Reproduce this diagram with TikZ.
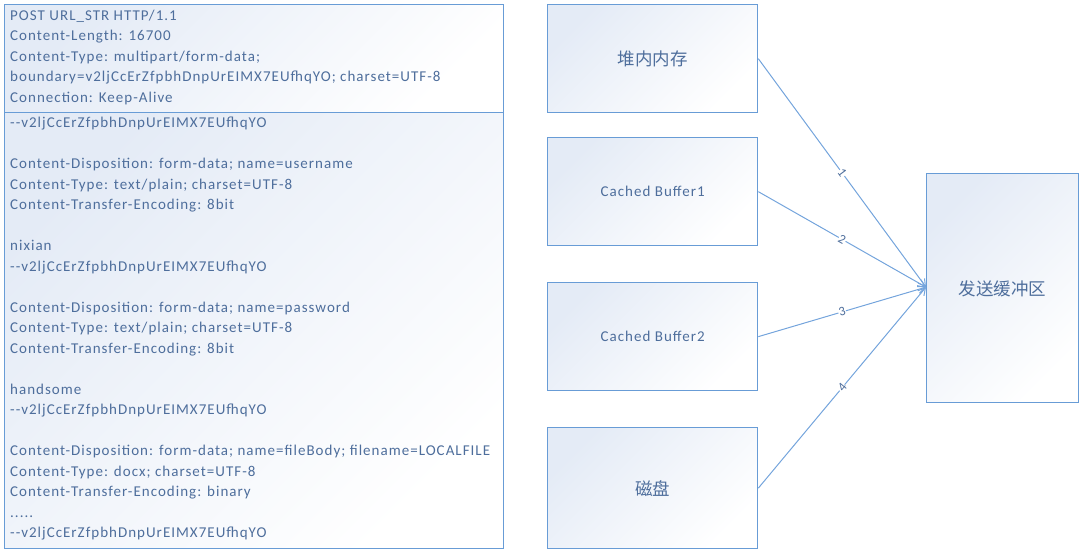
\documentclass[tikz,border=0pt]{standalone}
\usepackage{fontspec}
\setmainfont{Carlito}[LetterSpace=6.8]
\newfontfamily\cjk{Noto Sans CJK SC}
\usetikzlibrary{arrows.meta}
\definecolor{bordc}{RGB}{104,156,214}
\definecolor{linec}{RGB}{116,164,220}
\definecolor{txtc}{RGB}{78,110,156}
\definecolor{shadec}{RGB}{228,235,246}
\tikzset{
  boxs/.style={draw=bordc, line width=1.3pt, top color=shadec, bottom color=white, shading angle=45, inner sep=0pt, anchor=north west},
  txt/.style={text=txtc, font=\fontsize{15}{20.5}\selectfont, align=left, inner sep=0pt},
  lbl/.style={text=txtc, font=\cjk\fontsize{17.5}{20}\selectfont},
  conn/.style={draw=linec, line width=1pt, -{Straight Barb[length=7pt,width=8pt]}},
  num/.style={text=txtc, font=\fontsize{13}{13}\selectfont, fill=white, inner sep=0.5pt, sloped}
}
\begin{document}
\begin{tikzpicture}[x=1pt,y=-1pt]
\useasboundingbox (0,0) rectangle (1080,552);
% left message boxes
\node[boxs, minimum width=499pt, minimum height=108pt] (hdr) at (4,4) {};
\node[boxs, minimum width=499pt, minimum height=436pt] (body) at (4,112) {};
\node[txt, anchor=west] (hdrtxt) at ([xshift=6pt,yshift=1.5pt]hdr.west) {POST URL\_STR HTTP/1.1\\
Content-Length: 16700\\
Content-Type: multipart/form-data;\\
boundary=v2ljCcErZfpbhDnpUrEIMX7EUfhqYO; charset=UTF-8\\
Connection: Keep-Alive};
\node[txt, anchor=west] (bodytxt) at ([xshift=6pt,yshift=2pt]body.west) {-{}-v2ljCcErZfpbhDnpUrEIMX7EUfhqYO\\
\strut\\
Content-Disposition: form-data; name=username\\
Content-Type: text/plain; charset=UTF-8\\
Content-Transfer-Encoding: 8bit\\
\strut\\
nixian\\
-{}-v2ljCcErZfpbhDnpUrEIMX7EUfhqYO\\
\strut\\
Content-Disposition: form-data; name=password\\
Content-Type: text/plain; charset=UTF-8\\
Content-Transfer-Encoding: 8bit\\
\strut\\
handsome\\
-{}-v2ljCcErZfpbhDnpUrEIMX7EUfhqYO\\
\strut\\
Content-Disposition: form-data; name=fileBody; filename=LOCALFILE\\
Content-Type: docx; charset=UTF-8\\
Content-Transfer-Encoding: binary\\
.....\\
-{}-v2ljCcErZfpbhDnpUrEIMX7EUfhqYO};
% source boxes
\node[boxs, minimum width=210pt, minimum height=108pt] (heap) at (547,4) {};
\node[lbl] at (heap.center) {堆内内存};
\node[boxs, minimum width=210pt, minimum height=108pt] (cb1) at (547,137) {};
\node[txt] at (cb1.center) {Cached Buffer1};
\node[boxs, minimum width=210pt, minimum height=108pt] (cb2) at (547,282) {};
\node[txt] at (cb2.center) {Cached Buffer2};
\node[boxs, minimum width=210pt, minimum height=121pt] (disk) at (547,427) {};
\node[lbl] at (disk.center) {磁盘};
% target
\node[boxs, minimum width=152pt, minimum height=229pt] (send) at (926,173) {};
\node[lbl] at ([yshift=-0.5pt]send.center) {发送缓冲区};
\coordinate (tgt) at ([yshift=1pt]send.west);
% connectors
\draw[conn] (heap.east) -- node[num] {1} (tgt);
\draw[conn] (cb1.east) -- node[num] {2} (tgt);
\draw[conn] (cb2.east) -- node[num] {3} (tgt);
\draw[conn] (disk.east) -- node[num] {4} (tgt);
\end{tikzpicture}
\end{document}
